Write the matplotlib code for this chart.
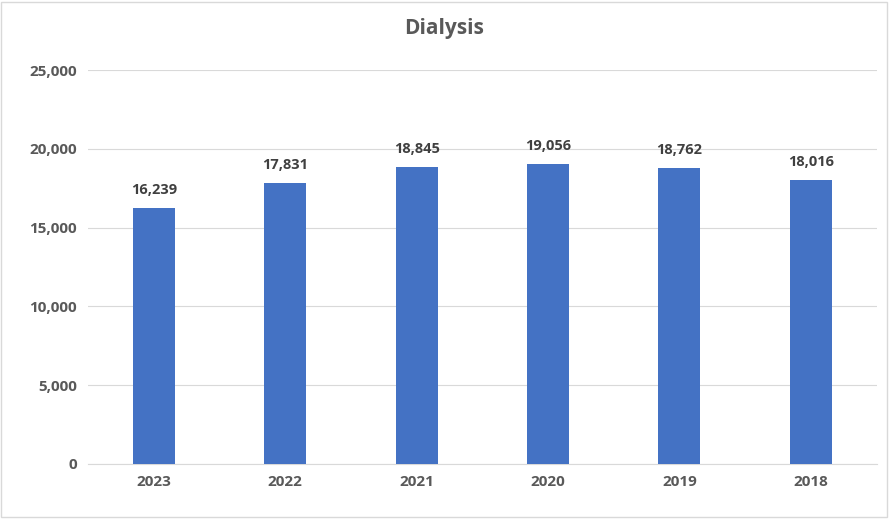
import matplotlib.pyplot as plt
from matplotlib.patches import Rectangle

years = ['2023', '2022', '2021', '2020', '2019', '2018']
counts = [16239, 17831, 18845, 19056, 18762, 18016]

plt.rcParams['font.family'] = ['Open Sans', 'DejaVu Sans']
grey = '#595959'

fig = plt.figure(figsize=(8.89, 5.19), dpi=100)
ax = fig.add_axes([0.099, 0.106, 0.887, 0.759])

x = range(len(years))
ax.bar(x, counts, width=0.32, color='#4472C4', zorder=3)
for xi, v in zip(x, counts):
    ax.text(xi, v + 700, f'{v:,}', ha='center', va='bottom',
            fontsize=10.5, fontweight='bold', color='#404040')

ax.set_xlim(-0.5, len(years) - 0.5)
ax.set_ylim(0, 25000)
ax.set_yticks(range(0, 25001, 5000))
ax.set_yticklabels([f'{t:,}' for t in range(0, 25001, 5000)])
ax.set_xticks(list(x))
ax.set_xticklabels(years)
ax.tick_params(length=0, labelsize=11, labelcolor=grey, pad=8)
for lab in ax.get_xticklabels() + ax.get_yticklabels():
    lab.set_fontweight('bold')
ax.yaxis.grid(True, color='#d9d9d9', linewidth=0.8, zorder=0)
for s in ['top', 'right', 'left']:
    ax.spines[s].set_visible(False)
ax.spines['bottom'].set_color('#d9d9d9')

fig.text(0.5, 0.945, 'Dialysis', ha='center', va='center',
         fontsize=15, fontweight='bold', color=grey)
fig.add_artist(Rectangle((0.001, 0.003), 0.997, 0.994, transform=fig.transFigure,
                         fill=False, edgecolor='#d9d9d9', linewidth=1))

fig.savefig('out.png', dpi=100)
